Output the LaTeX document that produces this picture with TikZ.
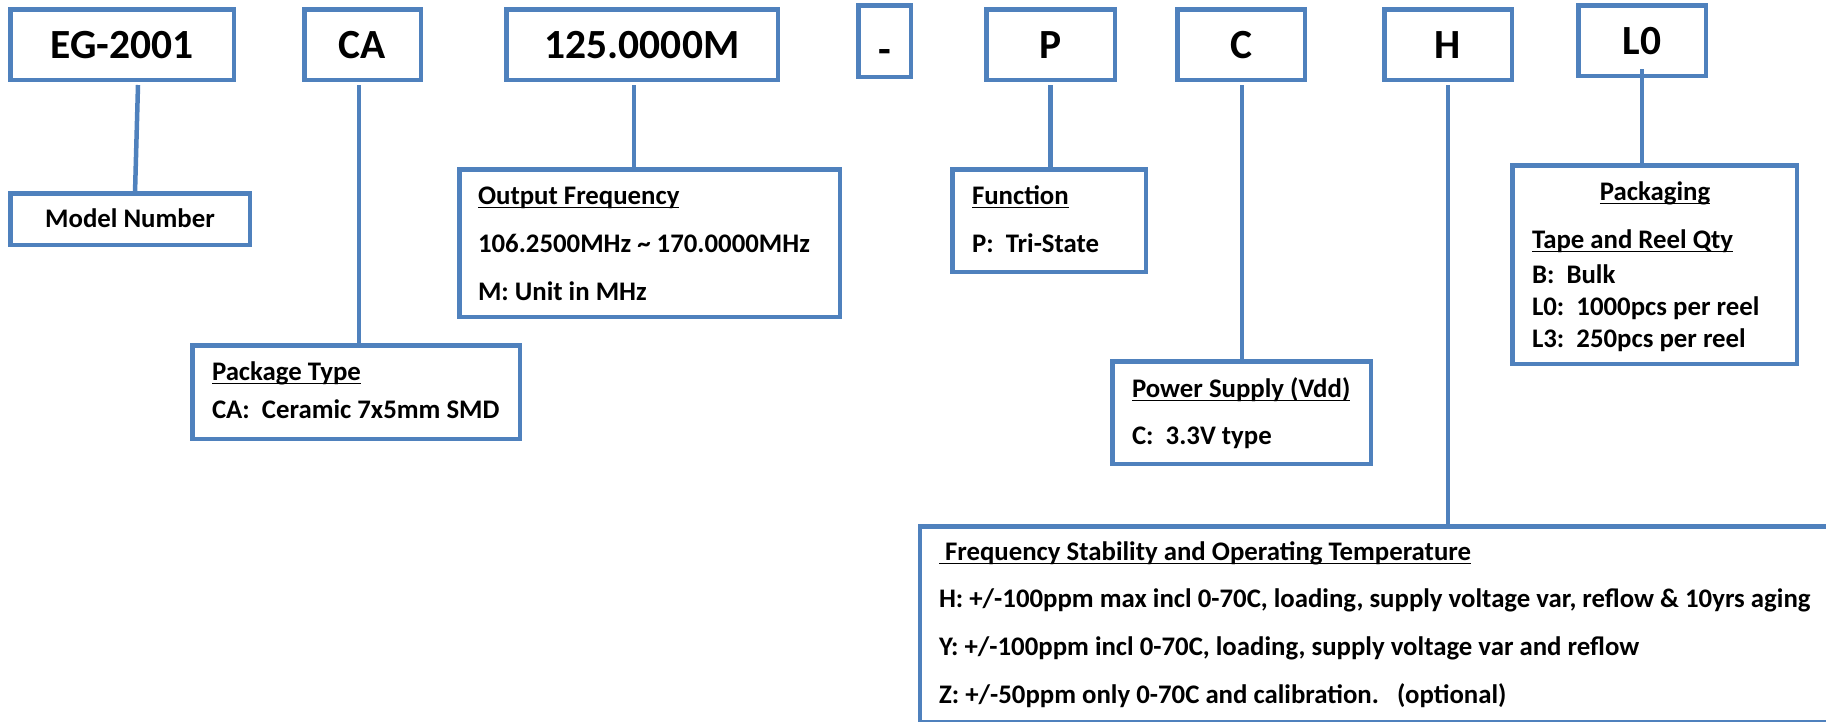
\documentclass[tikz,border=0pt]{standalone}
\usepackage{fontspec}
\setmainfont{Carlito}
\usetikzlibrary{backgrounds}
\definecolor{boxblue}{HTML}{4F81BD}
\newcommand\headfont{\fontsize{41.5}{48}\selectfont\bfseries}
\newcommand\bodyfont{\fontsize{26.8}{30}\selectfont\bfseries}

\begin{document}
\begin{tikzpicture}[x=1pt,y=-1pt,
  codebox/.style={draw=boxblue, line width=4.5pt, inner sep=0pt, outer sep=0pt,
    font=\headfont, text height=27.7pt, text depth=0pt, minimum height=70.5pt},
  infobox/.style={draw=boxblue, line width=4.5pt, inner sep=0pt, outer sep=0pt},
  entry/.style={anchor=base west, inner sep=0pt, outer sep=0pt, font=\bodyfont},
  connector/.style={draw=boxblue, line width=4.5pt},
  uline/.style={line width=1.5pt}]

\useasboundingbox (0,0) rectangle (1826,721);

% ordering-code boxes along the top
\node[codebox, minimum width=223.5pt] (eg)   at (122,44.5)  {EG-2001};
\node[codebox, minimum width=116.5pt] (ca)   at (362.5,44.5) {CA};
\node[codebox, minimum width=271.5pt] (f125) at (642,44.5)  {125.0000M};
\node[codebox, minimum width=52.5pt, minimum height=71.5pt] (dash) at (884.5,41) {\raisebox{-9pt}{-}};
\node[codebox, minimum width=128.5pt] (p)    at (1050.5,44.5) {P};
\node[codebox, minimum width=127.5pt] (c)    at (1241,44.5) {C};
\node[codebox, minimum width=127.5pt] (h)    at (1448,44.5) {H};
\node[codebox, minimum width=127.5pt] (l0)   at (1642,40.5) {L0};

% description boxes
\node[infobox, minimum width=239.5pt, minimum height=51.5pt, font=\bodyfont,
      text height=17pt, text depth=0pt] (model) at (130,219) {Model Number};
\node[infobox, minimum width=327.5pt, minimum height=93.5pt]  (pkg)   at (356,392) {};
\node[infobox, minimum width=380.5pt, minimum height=147.5pt] (outf)  at (649.5,243) {};
\node[infobox, minimum width=193.5pt, minimum height=102.5pt] (func)  at (1049,220.5) {};
\node[infobox, minimum width=258.5pt, minimum height=102.5pt] (power) at (1241.5,412.5) {};
\node[infobox, minimum width=284.5pt, minimum height=198.5pt] (pack)  at (1654.5,264.5) {};
\node[infobox, minimum width=919.75pt, minimum height=196.25pt] (freq) at (1380.1,624.4) {};

% texts of the description boxes
\node[entry] (pkgT) at (212,380) {Package Type};
\node[entry] (pkgA) at (212,418) {CA:\ \ Ceramic 7x5mm SMD};

\node[entry] (outT) at (478,204) {Output Frequency};
\node[entry] (outA) at (478,252) {106.2500MHz \char"007E{} 170.0000MHz};
\node[entry] (outB) at (478,300) {M: Unit in MHz};

\node[entry] (funT) at (972,204) {Function};
\node[entry] (funA) at (972,252) {P:\ \ Tri-State};

\node[entry] (powT) at (1132,397) {Power Supply (Vdd)};
\node[entry] (powA) at (1132,444) {C:\ \ 3.3V type};

\node[entry, anchor=base] (pakT) at (1655,200) {Packaging};
\node[entry] (pakS) at (1532,248) {Tape and Reel Qty};
\node[entry] (pakA) at (1532,283) {B:\ \ Bulk};
\node[entry] (pakB) at (1532,315) {L0:\ \ 1000pcs per reel};
\node[entry] (pakC) at (1532,347) {L3:\ \ 250pcs per reel};

\node[entry] (frqT) at (939,560) {\ Frequency Stability and Operating Temperature};
\node[entry] (frqH) at (939,607) {H: +/-100ppm max incl 0-70C, loading, supply voltage var, reflow \& 10yrs aging};
\node[entry] (frqY) at (939,655) {Y: +/-100ppm incl 0-70C, loading, supply voltage var and reflow};
\node[entry] (frqZ) at (939,703) {Z: +/-50ppm only 0-70C and calibration.\ \ \ (optional)};

% underlined headings
\foreach \t in {pkgT,outT,funT,powT,pakT,pakS,frqT}
  \draw[uline] ([yshift=-3.5pt]\t.base west) -- ([yshift=-3.5pt]\t.base east);

% connectors from each code to its description
\begin{scope}[on background layer]
  \draw[connector] ([xshift=16pt,yshift=-5.25pt]eg.south) -- ([xshift=5pt]model.north);
  \draw[connector] ([xshift=-3.5pt,yshift=-5.25pt]ca.south) -- ([xshift=-3.5pt]ca.south |- pkg.north);
  \draw[connector] ([xshift=-8pt,yshift=-5.25pt]f125.south) -- ([xshift=-8pt]f125.south |- outf.north);
  \draw[connector] ([yshift=-5.25pt]p.south) -- (p.south |- func.north);
  \draw[connector] ([xshift=1pt,yshift=-5.25pt]c.south) -- ([xshift=1pt]c.south |- power.north);
  \draw[connector] ([yshift=-5.25pt]h.south) -- (h.south |- freq.north);
  \draw[connector] ([yshift=6.75pt]l0.south) -- (l0.south |- pack.north);
\end{scope}
\end{tikzpicture}
\end{document}
